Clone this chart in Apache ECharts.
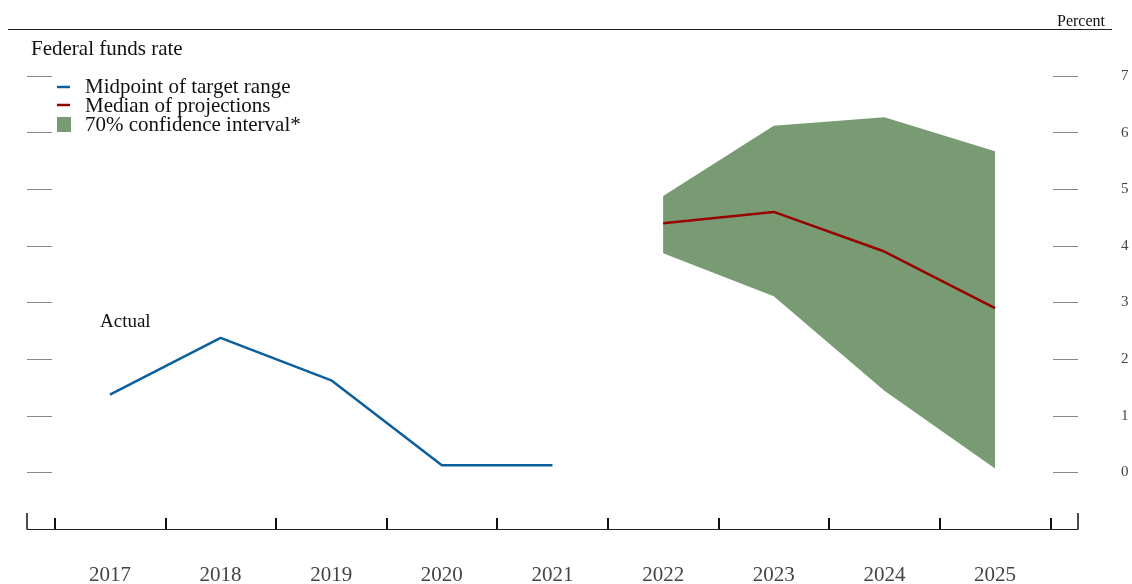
<!DOCTYPE html>
<html>
<head>
<meta charset="utf-8">
<script src="https://cdn.jsdelivr.net/npm/echarts@6/dist/echarts.min.js"></script>
<style>
  html, body { margin: 0; padding: 0; background: #fff; }
  #chart { width: 1132px; height: 584px; }
</style>
</head>
<body>
<div id="chart"></div>
<script>
// data
var years = [2017, 2018, 2019, 2020, 2021, 2022, 2023, 2024, 2025]
var actualYears = [2017, 2018, 2019, 2020, 2021]
var midpoint = [1.375, 2.375, 1.625, 0.125, 0.125]
var projYears = [2022, 2023, 2024, 2025]
var median = [4.4, 4.6, 3.9, 2.9]
var ciUpper = [4.88, 6.12, 6.27, 5.67]
var ciLower = [3.87, 3.11, 1.44, 0.07]
var yTicks = [0, 1, 2, 3, 4, 5, 6, 7]
var yearBounds = [2016.5, 2017.5, 2018.5, 2019.5, 2020.5, 2021.5, 2022.5, 2023.5, 2024.5, 2025.5]
var axisEnds = [2016.25, 2025.75]

var FONT = '"Liberation Serif", "DejaVu Serif", serif'
var GREEN = '#789b73'
var BLUE = '#0a5f9c'
var RED = '#990000'

var myChart = echarts.init(document.getElementById('chart'))

function pairs(xs, ys) {
  return xs.map(function (x, i) { return [x, ys[i]] })
}

// band as one polygon: upper edge left to right, lower edge back
function renderBand(params, api) {
  if (params.dataIndex !== 0) return
  var pts = []
  projYears.forEach(function (x, i) { pts.push(api.coord([x, ciUpper[i]])) })
  for (var i = projYears.length - 1; i >= 0; i--) {
    pts.push(api.coord([projYears[i], ciLower[i]]))
  }
  return {
    type: 'polygon',
    shape: { points: pts },
    style: { fill: GREEN }
  }
}

var option = {
  animation: false,
  textStyle: { fontFamily: FONT },
  grid: { left: 27, right: 54, top: 76, bottom: 55, outerBoundsMode: 'none', containLabel: false },
  xAxis: [
    {
      type: 'value',
      min: axisEnds[0],
      max: axisEnds[1],
      position: 'bottom',
      splitLine: { show: false },
      axisLine: { show: true, onZero: false, lineStyle: { color: '#222', width: 1.2 } },
      axisTick: {
        show: true,
        inside: true,
        customValues: yearBounds,
        length: 11,
        lineStyle: { color: '#111', width: 2 }
      },
      axisLabel: {
        customValues: years,
        formatter: function (v) { return String(v) },
        margin: 36,
        fontSize: 21,
        color: '#444',
        fontFamily: FONT
      }
    },
    {
      type: 'value',
      min: axisEnds[0],
      max: axisEnds[1],
      position: 'bottom',
      splitLine: { show: false },
      axisLine: { show: false, onZero: false },
      axisTick: {
        show: true,
        inside: true,
        customValues: axisEnds,
        length: 16,
        lineStyle: { color: '#111', width: 1.5 }
      },
      axisLabel: { show: false }
    }
  ],
  yAxis: [
    {
      type: 'value',
      min: -1,
      max: 7,
      position: 'left',
      splitLine: { show: false },
      axisLine: { show: false },
      axisTick: {
        show: true,
        inside: true,
        length: 25,
        customValues: yTicks,
        lineStyle: { color: '#888', width: 1 }
      },
      axisLabel: { show: false }
    },
    {
      type: 'value',
      min: -1,
      max: 7,
      position: 'right',
      splitLine: { show: false },
      axisLine: { show: false },
      axisTick: {
        show: true,
        inside: true,
        length: 25,
        customValues: yTicks,
        lineStyle: { color: '#888', width: 1 }
      },
      axisLabel: {
        customValues: yTicks,
        margin: 43,
        fontSize: 15,
        color: '#444',
        fontFamily: FONT
      }
    }
  ],
  series: [
    {
      name: '70% confidence interval*',
      type: 'custom',
      renderItem: renderBand,
      data: pairs(projYears, ciUpper),
      z: 1
    },
    {
      name: 'Midpoint of target range',
      type: 'line',
      data: pairs(actualYears, midpoint),
      showSymbol: false,
      lineStyle: { color: BLUE, width: 2.5 },
      z: 3
    },
    {
      name: 'Median of projections',
      type: 'line',
      data: pairs(projYears, median),
      showSymbol: false,
      lineStyle: { color: RED, width: 2.5 },
      z: 3
    }
  ],
  graphic: [
    { type: 'line', shape: { x1: 8, y1: 29.5, x2: 1112, y2: 29.5 }, style: { stroke: '#222', lineWidth: 1 } },
    { type: 'text', left: 1057, top: 14, style: { text: 'Percent', fontSize: 16, fontFamily: FONT, fill: '#111' } },
    { type: 'text', left: 31, top: 39, style: { text: 'Federal funds rate', fontSize: 21, fontFamily: FONT, fill: '#111' } },
    // legend
    { type: 'line', shape: { x1: 57, y1: 87, x2: 70, y2: 87 }, style: { stroke: BLUE, lineWidth: 2.5 } },
    { type: 'text', left: 85, top: 77, style: { text: 'Midpoint of target range', fontSize: 21, fontFamily: FONT, fill: '#111' } },
    { type: 'line', shape: { x1: 57, y1: 105, x2: 70, y2: 105 }, style: { stroke: RED, lineWidth: 2.5 } },
    { type: 'text', left: 85, top: 96, style: { text: 'Median of projections', fontSize: 21, fontFamily: FONT, fill: '#111' } },
    { type: 'rect', shape: { x: 57, y: 117, width: 14, height: 15 }, style: { fill: GREEN } },
    { type: 'text', left: 85, top: 115, style: { text: '70% confidence interval*', fontSize: 21, fontFamily: FONT, fill: '#111' } },
    { type: 'text', left: 100, top: 313, style: { text: 'Actual', fontSize: 19, fontFamily: FONT, fill: '#111' } }
  ]
}

option && myChart.setOption(option)
window.addEventListener('resize', function () {
  myChart.resize()
})
</script>
</body>
</html>
